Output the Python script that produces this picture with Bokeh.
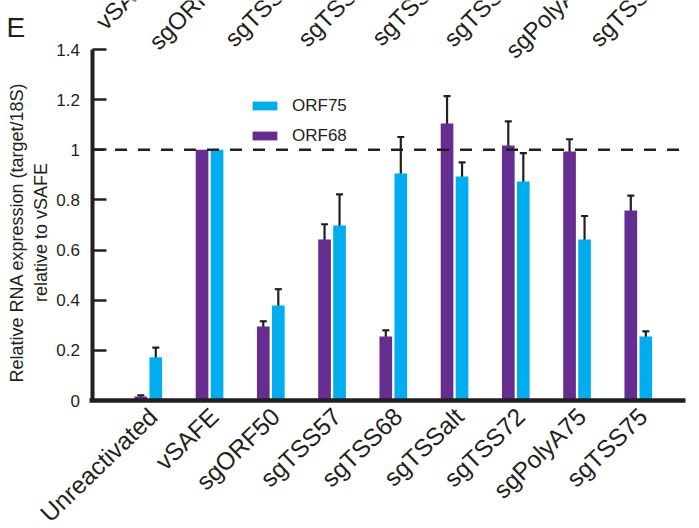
import numpy as np
from bokeh.plotting import figure
from bokeh.models import (ColumnDataSource, FixedTicker, Whisker, Legend,
                          LegendItem, Label, TeeHead, Range1d)
from bokeh.embed import file_html
from bokeh.resources import INLINE

# ---------------- data ----------------
categories = ["Unreactivated", "vSAFE", "sgORF50", "sgTSS57", "sgTSS68",
              "sgTSSalt", "sgTSS72", "sgPolyA75", "sgTSS75"]
orf68 = [0.016, 1.0, 0.295, 0.642, 0.255, 1.105, 1.017, 0.993, 0.758]
orf68_err = [0.005, 0.0, 0.021, 0.061, 0.025, 0.109, 0.096, 0.049, 0.059]
orf75 = [0.173, 1.0, 0.379, 0.698, 0.905, 0.893, 0.874, 0.642, 0.255]
orf75_err = [0.038, 0.0, 0.065, 0.124, 0.146, 0.057, 0.113, 0.094, 0.021]
y_ticks = [0, 0.2, 0.4, 0.6, 0.8, 1.0, 1.2, 1.4]
y_tick_labels = ["0", "0.2", "0.4", "0.6", "0.8", "1", "1.2", "1.4"]
y_title = ["Relative RNA expression (target/18S)", "relative to vSAFE"]
top_labels = ["vSAFE", "sgORF50", "sgTSS57", "sgTSS68", "sgTSSalt",
              "sgTSS72", "sgPolyA75", "sgTSS75"]   # cut-off labels of the panel above
panel_letter = "E"
reference_level = 1.0

# ---------------- style / layout ----------------
DARK = "#231f20"
PURPLE = "#662d91"
CYAN = "#00aeef"
FONT = "Liberation Sans"
BAR_W = 0.207
OFF = 0.1225
LABEL_SHIFT = 0.08          # category labels sit a little right of the group centre

W, H = 699, 528
PX_PER_CAT = 61.25           # pixels between two groups
PX_PER_UNIT = 250.7          # pixels per 1.0 on the y axis
FIRST_CENTER = 147.8         # picture x of first group centre
ZERO_PIC = 400.0             # picture y of value 0


def px_x(px):
    """picture x pixel -> data x"""
    return (px - FIRST_CENTER) / PX_PER_CAT


def px_y(py):
    """picture y pixel -> data y"""
    return (ZERO_PIC - py) / PX_PER_UNIT


# the frame covers the whole canvas
x_start, x_end = px_x(0), px_x(W)
y_start, y_end = px_y(H), px_y(0)
y_axis_x = px_x(91.5)
x_axis_end = px_x(685)

p = figure(width=W, height=H, output_backend="svg", toolbar_location=None,
           x_range=Range1d(x_start, x_end), y_range=Range1d(y_start, y_end),
           min_border=0, min_border_left=0, min_border_right=0,
           min_border_top=0, min_border_bottom=0)
p.outline_line_color = None
p.grid.visible = False

x = np.arange(len(categories), dtype=float)
src = ColumnDataSource(dict(x68=x - OFF, x75=x + OFF, orf68=orf68, orf75=orf75))
r68 = p.vbar(x="x68", top="orf68", width=BAR_W, source=src,
             fill_color=PURPLE, line_color=None)
r75 = p.vbar(x="x75", top="orf75", width=BAR_W, source=src,
             fill_color=CYAN, line_color=None)


def err_source(xs, vals, errs):
    keep = [i for i, e in enumerate(errs) if e > 0]
    return ColumnDataSource(dict(
        base=[xs[i] for i in keep],
        upper=[vals[i] + errs[i] for i in keep],
        lower=[vals[i] - errs[i] for i in keep]))


for xs, vals, errs in [(x - OFF, orf68, orf68_err), (x + OFF, orf75, orf75_err)]:
    p.add_layout(Whisker(base="base", upper="upper", lower="lower",
                         source=err_source(list(xs), vals, errs),
                         line_color=DARK, line_width=2.2,
                         upper_head=TeeHead(size=7, line_color=DARK, line_width=2.2),
                         lower_head=TeeHead(size=7, line_color=DARK, line_width=2.2)))

# dashed reference line at 1 (from the y axis to the right end)
p.line(x=[y_axis_x, x_axis_end], y=[reference_level, reference_level],
       line_color=DARK, line_width=2.5, line_dash="12 11")

# x axis at y = 0
tick_pos = [float(i) + LABEL_SHIFT for i in range(len(categories))]
p.xaxis.fixed_location = 0
p.xaxis.bounds = (px_x(89), x_axis_end)
p.xaxis.ticker = FixedTicker(ticks=tick_pos)
p.xaxis.major_label_overrides = dict(zip(tick_pos, categories))
p.xaxis.major_label_orientation = np.deg2rad(44)
p.xaxis.major_tick_line_color = None
p.xaxis.major_tick_out = 0
p.xaxis.major_tick_in = 0
p.xaxis.minor_tick_line_color = None
p.xaxis.axis_line_width = 4.5
p.xaxis.axis_line_color = DARK
p.xaxis.major_label_text_font = FONT
p.xaxis.major_label_text_font_size = "24.5px"
p.xaxis.major_label_text_color = DARK
p.xaxis.major_label_standoff = 12

# y axis
p.yaxis.fixed_location = y_axis_x
p.yaxis.bounds = (0, 1.4)
p.yaxis.ticker = FixedTicker(ticks=y_ticks)
p.yaxis.major_label_overrides = dict(zip([float(t) for t in y_ticks], y_tick_labels))
p.yaxis.major_tick_in = 14
p.yaxis.major_tick_out = 0
p.yaxis.major_tick_line_width = 2.5
p.yaxis.major_tick_line_color = DARK
p.yaxis.minor_tick_line_color = None
p.yaxis.axis_line_width = 4
p.yaxis.axis_line_color = DARK
p.yaxis.major_label_standoff = 12
p.yaxis.major_label_text_font = FONT
p.yaxis.major_label_text_font_size = "17px"
p.yaxis.major_label_text_color = DARK

# two-line y-axis title
for t, bx in zip(y_title, [16, 40.5]):
    p.add_layout(Label(x=px_x(bx), y=px_y(232), text=t, angle=np.pi / 2,
                       text_align="center", text_baseline="alphabetic",
                       text_font=FONT, text_font_size="18px", text_color=DARK))

legend = Legend(items=[LegendItem(label="ORF75", renderers=[r75]),
                       LegendItem(label="ORF68", renderers=[r68])],
                location=(249, H - 145.5), orientation="vertical",
                glyph_width=31, glyph_height=11, label_standoff=12,
                spacing=10, padding=0, margin=0, label_height=20,
                border_line_color=None, background_fill_alpha=0,
                label_text_font=FONT, label_text_font_size="17px",
                label_text_color=DARK)
p.add_layout(legend)

# cut-off category labels of the panel above (right ends above the picture)
for i, t in enumerate(top_labels):
    p.add_layout(Label(x=px_x(152 + 73.0 * i), y=px_y(-28), text=t, angle=np.pi / 4,
                       text_align="right", text_baseline="alphabetic",
                       text_font=FONT, text_font_size="24px", text_color=DARK))

p.add_layout(Label(x=px_x(6), y=px_y(26.5), text=panel_letter,
                   text_font=FONT, text_font_size="28px", text_color=DARK,
                   text_baseline="alphabetic", text_align="left"))

open("out.html", "w").write(file_html(p, INLINE))
